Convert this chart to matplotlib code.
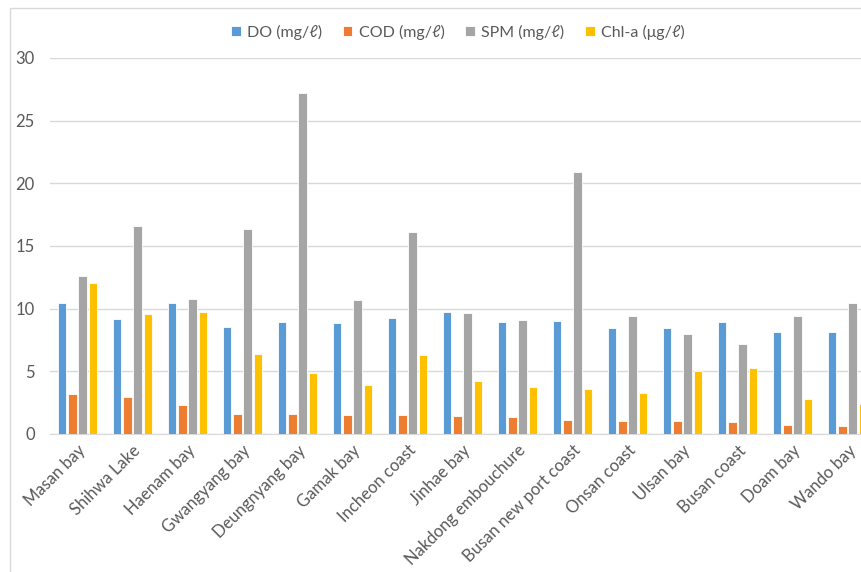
import matplotlib.pyplot as plt
import numpy as np
from matplotlib.patches import Rectangle

# Data
sites = ['Masan bay', 'Shihwa Lake', 'Haenam bay', 'Gwangyang bay', 'Deungnyang bay',
         'Gamak bay', 'Incheon coast', 'Jinhae bay', 'Nakdong embouchure',
         'Busan new port coast', 'Onsan coast', 'Ulsan bay', 'Busan coast', 'Doam bay', 'Wando bay']
do_vals = [10.43, 9.21, 10.43, 8.52, 8.97, 8.86, 9.26, 9.74, 8.94, 9.0, 8.46, 8.46, 8.94, 8.17, 8.12]
cod_vals = [3.19, 2.95, 2.32, 1.62, 1.62, 1.52, 1.52, 1.41, 1.36, 1.12, 1.06, 1.06, 0.93, 0.72, 0.67]
spm_vals = [12.64, 16.61, 10.78, 16.34, 27.23, 10.73, 16.10, 9.69, 9.10, 20.87, 9.40, 7.99, 7.19, 9.40, 10.49]
chla_vals = [12.06, 9.56, 9.74, 6.39, 4.90, 3.94, 6.31, 4.23, 3.75, 3.59, 3.27, 5.03, 5.27, 2.79, 2.40]

series = [
    ('DO (mg/ℓ)', do_vals, '#5B9BD5'),
    ('COD (mg/ℓ)', cod_vals, '#ED7D31'),
    ('SPM (mg/ℓ)', spm_vals, '#A5A5A5'),
    ('Chl-a (μg/ℓ)', chla_vals, '#FFC000'),
]

plt.rcParams['font.family'] = ['Lato', 'DejaVu Sans']
text_color = '#595959'

fig = plt.figure(figsize=(8.61, 5.72), dpi=100)
# chart frame (right side is cropped in the original)
fig.patches.append(Rectangle((10 / 861, -0.1), 1.0, (572 - 8) / 572 + 0.1,
                             transform=fig.transFigure, fill=False,
                             edgecolor='#d9d9d9', linewidth=1))

ax = fig.add_axes([50 / 861, (572 - 434) / 572, 825 / 861, 376 / 572])

x = np.arange(len(sites))
step = 0.19
width = 0.155
for i, (name, vals, color) in enumerate(series):
    ax.bar(x + (i - 1.5) * step, vals, width=width, color=color, label=name,
           edgecolor='white', linewidth=0.6, zorder=3)

ax.set_xlim(-0.5, len(sites) - 0.5)
ax.set_ylim(0, 30)
ax.set_yticks(range(0, 31, 5))
ax.grid(axis='y', color='#d9d9d9', linewidth=1, zorder=0)
for s in ['top', 'right', 'left']:
    ax.spines[s].set_visible(False)
ax.spines['bottom'].set_color('#d9d9d9')
ax.tick_params(axis='both', length=0, labelsize=12, colors=text_color)
ax.tick_params(axis='y', pad=11)
ax.set_xticks(x)
ax.set_xticklabels(sites, rotation=45, ha='right', rotation_mode='anchor')
ax.tick_params(axis='x', pad=6)

fig.legend(loc='center', bbox_to_anchor=(458 / 861, 1 - 32 / 572), ncol=4,
           frameon=False, fontsize=11.5, handlelength=0.6, handleheight=0.6,
           handletextpad=0.4, columnspacing=1.3, labelcolor=text_color)

fig.savefig('out.png', dpi=100)
